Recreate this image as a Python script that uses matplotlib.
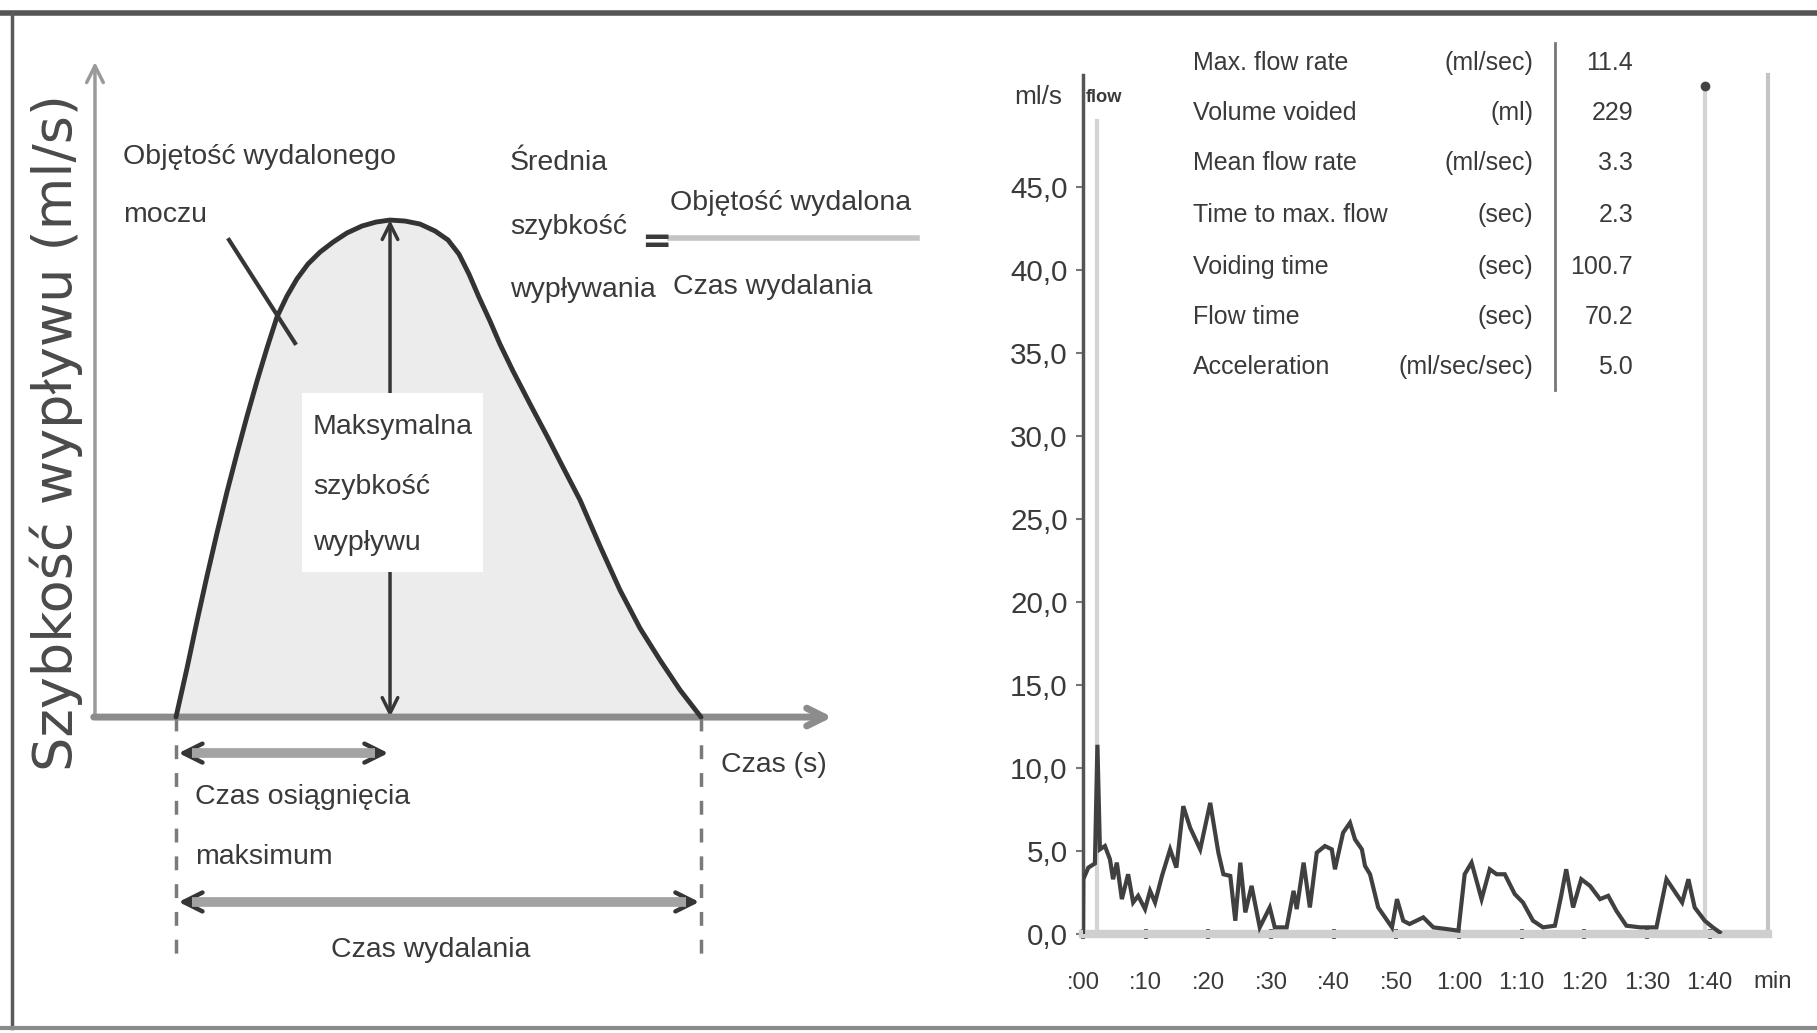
import matplotlib
matplotlib.use("Agg")
import matplotlib.pyplot as plt
from matplotlib import font_manager
from matplotlib.lines import Line2D
from matplotlib.patches import Rectangle

# ---- schemat krzywej przepływu (lewy panel) ----
curve_t = [0.0, 0.63, 1.2, 1.77, 2.34, 2.91, 3.49, 4.06, 4.63, 5.2,
           5.77, 6.34, 6.91, 7.54, 8.23, 8.97, 9.77, 10.63, 11.43, 12.23,
           13.09, 13.94, 14.8, 15.54, 16.17, 16.74, 17.31, 17.94, 18.51, 19.26,
           20.23, 21.2, 22.11, 23.09, 24.23, 25.37, 26.51, 27.66, 28.8, 30.0]
curve_v = [0.0, 1.97, 3.86, 5.67, 7.4, 9.05, 10.62, 12.11, 13.52, 14.85,
           16.1, 16.94, 17.63, 18.23, 18.71, 19.11, 19.48, 19.76, 19.92, 20.0,
           19.96, 19.84, 19.56, 19.2, 18.63, 17.83, 16.9, 15.94, 15.01, 13.92,
           12.6, 11.31, 10.06, 8.73, 6.88, 5.11, 3.58, 2.29, 1.09, 0.0]
peak_t, peak_v = 12.23, 20.0
end_t = 30.0

# ---- zapis uroflowmetrii (prawy panel) ----
flow_t = [0, 0.05, 0.85, 1.9, 2.3, 2.7, 3.5, 4.3, 4.8, 5.4,
          6.2, 7.2, 8.0, 8.8, 9.9, 10.7, 11.5, 12.6, 13.9, 14.9,
          16.0, 17.1, 18.7, 20.3, 21.6, 22.4, 23.5, 24.3, 25.1, 25.9,
          26.9, 28.2, 29.8, 30.6, 32.5, 33.6, 34.1, 35.2, 36.2, 37.3,
          38.6, 39.7, 40.2, 41.5, 42.6, 43.4, 44.5, 45.0, 45.8, 47.1,
          48.2, 49.3, 50.1, 51.1, 52.1, 54.3, 55.9, 58.0, 59.9, 60.9,
          62.0, 63.6, 64.9, 66.0, 67.3, 68.9, 70.2, 71.8, 73.4, 75.3,
          76.3, 77.1, 78.2, 79.5, 80.9, 82.5, 83.8, 85.1, 86.7, 88.9,
          91.5, 93.1, 94.7, 95.6, 96.6, 97.6, 99.2, 100.5, 101.6]
flow_v = [0, 3.3, 4.0, 4.25, 11.4, 5.1, 5.3, 4.5, 3.3, 4.3,
          2.1, 3.6, 1.9, 2.3, 1.5, 2.6, 1.9, 3.5, 5.1, 4.0,
          7.7, 6.4, 5.1, 7.9, 4.9, 3.6, 3.5, 0.8, 4.3, 1.3,
          2.9, 0.4, 1.6, 0.4, 0.4, 2.6, 1.5, 4.3, 1.6, 4.9,
          5.3, 5.1, 3.9, 6.1, 6.7, 5.7, 5.1, 4.1, 3.6, 1.6,
          1.0, 0.4, 2.1, 0.8, 0.6, 1.0, 0.4, 0.3, 0.2, 3.6,
          4.3, 2.1, 3.9, 3.6, 3.6, 2.4, 1.9, 0.8, 0.4, 0.5,
          2.3, 3.9, 1.6, 3.3, 2.9, 2.1, 2.3, 1.4, 0.5, 0.4,
          0.4, 3.3, 2.4, 1.9, 3.3, 1.6, 0.8, 0.4, 0.1]
qmax_t = 2.3
stop_t = 99.3

x_ticks = [0, 10, 20, 30, 40, 50, 60, 70, 80, 90, 100]
x_labels = [":00", ":10", ":20", ":30", ":40", ":50",
            "1:00", "1:10", "1:20", "1:30", "1:40"]
y_ticks = [0, 5, 10, 15, 20, 25, 30, 35, 40, 45]
y_labels = ["0,0", "5,0", "10,0", "15,0", "20,0", "25,0",
            "30,0", "35,0", "40,0", "45,0"]

tab_names = ["Max. flow rate", "Volume voided", "Mean flow rate",
             "Time to max. flow", "Voiding time", "Flow time", "Acceleration"]
tab_units = ["(ml/sec)", "(ml)", "(ml/sec)", "(sec)", "(sec)", "(sec)",
             "(ml/sec/sec)"]
tab_values = ["11.4", "229", "3.3", "2.3", "100.7", "70.2", "5.0"]

names = {f.name for f in font_manager.fontManager.ttflist}
if "Liberation Sans Narrow" in names:
    NARROW, K = "Liberation Sans Narrow", 1.0
else:
    NARROW, K = "Liberation Sans", 0.82

W, H = 1817, 1033
fig = plt.figure(figsize=(W / 100, H / 100), dpi=100)
fig.patch.set_facecolor("white")

# ramka
fig.add_artist(Line2D([0, 1], [1 - 13 / H] * 2, transform=fig.transFigure,
                      color="#555555", lw=4))
fig.add_artist(Line2D([12 / W] * 2, [5 / H, 1 - 13 / H], transform=fig.transFigure,
                      color="#5a5a5a", lw=2.5))
fig.add_artist(Line2D([0, 1], [5 / H] * 2, transform=fig.transFigure,
                      color="#8a8a8a", lw=3))

# ================= lewy panel =================
ax1 = fig.add_axes([20 / W, 13 / H, 910 / W, 1000 / H])
ax1.set_xlim(-8.914, 43.086)
ax1.set_ylim(-12.19, 28.05)
ax1.axis("off")

dark = "#363636"
txt = dict(family=[NARROW, "DejaVu Sans"], fontsize=25 * K, color="#3a3a3a")

ax1.fill_between(curve_t, curve_v, 0, color="#ececec", lw=0, zorder=1)

# osie ze strzałkami
ax1.annotate("", xy=(-4.63, 26.36), xytext=(-4.63, 0),
             arrowprops=dict(arrowstyle="->", color="#9a9a9a", lw=2.5,
                             mutation_scale=30, shrinkA=0, shrinkB=0), zorder=2)
ax1.annotate("", xy=(37.5, 0), xytext=(-4.7, 0),
             arrowprops=dict(arrowstyle="->", color="#8c8c8c", lw=5,
                             mutation_scale=32, shrinkA=0, shrinkB=0), zorder=3)

# maksymalna szybkość
ax1.annotate("", xy=(peak_t, peak_v), xytext=(peak_t, 0),
             arrowprops=dict(arrowstyle="<->", color=dark, lw=2.5,
                             mutation_scale=28, shrinkA=0, shrinkB=0), zorder=2)
ax1.add_patch(Rectangle((7.2, 5.83), 10.34, 7.21, facecolor="white",
                        edgecolor="none", zorder=3))
ax1.text(7.83, 11.67, "Maksymalna", va="center", zorder=4, **txt)
ax1.text(7.83, 9.26, "szybkość", va="center", zorder=4, **txt)
ax1.text(7.83, 7.0, "wypływu", va="center", zorder=4, **txt)

ax1.plot(curve_t, curve_v, color="#333333", lw=3.5, zorder=5,
         solid_capstyle="round", solid_joinstyle="round")

# objętość
ax1.text(-3.03, 22.54, "Objętość wydalonego", va="center", **txt)
ax1.text(-3.03, 20.2, "moczu", va="center", **txt)
ax1.plot([3.03, 6.8], [19.2, 15.05], color=dark, lw=3, zorder=6)

# średnia szybkość
ax1.text(19.09, 22.29, "Średnia", va="center", **txt)
ax1.text(19.09, 19.72, "szybkość", va="center", **txt)
ax1.text(19.09, 17.18, "wypływania", va="center", **txt)
ax1.text(27.45, 19.1, "=", va="center", ha="center", fontweight="bold",
         family="DejaVu Sans", fontsize=26, color="#3a3a3a")
ax1.text(28.23, 20.68, "Objętość wydalona", va="center", **txt)
ax1.plot([28.23, 42.34], [19.28, 19.28], color="#c4c4c4", lw=4)
ax1.text(28.4, 17.3, "Czas wydalania", va="center", **txt)

ax1.text(-6.86, 11.43, "Szybkość wypływu (ml/s)", rotation=90, va="center",
         ha="center", family="DejaVu Sans", fontsize=39, color="#4a4a4a")
ax1.text(31.14, -1.93, "Czas (s)", va="center", **txt)

# linie przerywane
for xv in (0, end_t):
    ax1.plot([xv, xv], [0, -9.9], color="#7a7a7a", lw=2.5,
             dashes=(4, 4), zorder=2)

# czas do maksimum / czas wydalania
for y0, x1 in ((-1.45, peak_t), (-7.44, end_t)):
    ax1.annotate("", xy=(x1 - 0.1, y0), xytext=(0.15, y0),
                 arrowprops=dict(arrowstyle="<->", color=dark, lw=3.2,
                                 mutation_scale=34, shrinkA=0, shrinkB=0),
                 zorder=3)
    ax1.plot([0.9, x1 - 0.85], [y0, y0], color="#a3a3a3", lw=7,
             solid_capstyle="butt", zorder=4)
ax1.text(1.09, -3.22, "Czas osiągnięcia", va="center", **txt)
ax1.text(1.09, -5.63, "maksimum", va="center", **txt)
ax1.text(14.57, -9.38, "Czas wydalania", va="center", ha="center", **txt)

# ================= prawy panel =================
ax2 = fig.add_axes([1083 / W, (H - 934) / H, 685 / W, 859 / H])
ax2.set_xlim(0, 109.3)
ax2.set_ylim(0, 51.75)
ax2.spines["top"].set_visible(False)
ax2.spines["left"].set_color("#555555")
ax2.spines["left"].set_linewidth(2.5)
ax2.spines["right"].set_color("#c4c4c4")
ax2.spines["right"].set_linewidth(3)
ax2.spines["bottom"].set_color("#cfcfcf")
ax2.spines["bottom"].set_linewidth(6)

ax2.axvline(qmax_t, ymin=0, ymax=49 / 51.75, color="#d4d4d4", lw=3, zorder=1)
ax2.axvline(stop_t, ymin=0, ymax=51 / 51.75, color="#d4d4d4", lw=3, zorder=1)
ax2.plot([stop_t], [51.1], "o", color="#444444", ms=6, clip_on=False)

ax2.plot(flow_t, flow_v, color="#404040", lw=3, zorder=3,
         solid_joinstyle="miter")

tick_font = dict(family=[NARROW, "DejaVu Sans"], color="#3a3a3a")
ax2.set_xticks(x_ticks)
ax2.set_xticklabels(x_labels, fontsize=21 * K, **tick_font)
ax2.set_yticks(y_ticks)
ax2.set_yticklabels(y_labels, fontsize=26 * K, **tick_font)
ax2.tick_params(axis="x", direction="inout", length=7, width=3,
                color="#555555", pad=24)
ax2.tick_params(axis="y", direction="out", length=5, width=1.5,
                color="#777777", pad=6)

ax2.text(-3.3, 50.4, "ml/s", ha="right", va="center", fontsize=23 * K,
         **tick_font)
ax2.text(0.4, 50.4, "flow", ha="left", va="center", fontsize=16 * K,
         fontweight="bold", **tick_font)
ax2.text(106.9, -2.9, "min", ha="left", va="center", fontsize=21 * K,
         **tick_font)

# tabela parametrów
row_y = [63, 113, 163, 215, 267, 317, 367]
tab_font = dict(family=[NARROW, "DejaVu Sans"], fontsize=22 * K,
                color="#3a3a3a", va="center")
for name, unit, val, y in zip(tab_names, tab_units, tab_values, row_y):
    fy = 1 - y / H
    fig.text(1193 / W, fy, name, ha="left", **tab_font)
    fig.text(1533 / W, fy, unit, ha="right", **tab_font)
    fig.text(1633 / W, fy, val, ha="right", **tab_font)
fig.add_artist(Line2D([1555 / W] * 2, [1 - 43 / H, 1 - 390 / H],
                      transform=fig.transFigure, color="#777777", lw=2))

fig.savefig("out.png", dpi=100, facecolor="white")
